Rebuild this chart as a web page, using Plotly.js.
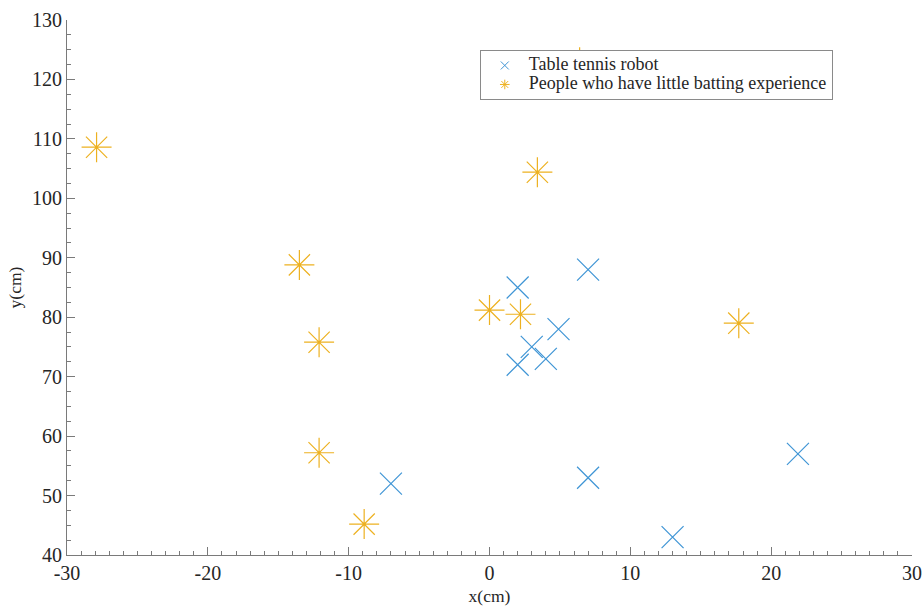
<!DOCTYPE html>
<html>
<head>
<meta charset="utf-8">
<script src="https://cdn.plot.ly/plotly-3.0.1.min.js"></script>
<style>html,body{margin:0;padding:0;background:#fff;}#chart{width:923px;height:606px;}</style>
</head>
<body>
<div id="chart"></div>
<script>
const robotX = [-7, 2, 7, 4.9, 3, 4, 2, 7, 13, 21.9];
const robotY = [52, 85, 88, 78, 75, 73, 72, 53, 43, 57];
const peopleX = [-27.9, -13.5, -12.1, -12.1, -8.9, 0, 2.2, 3.4, 17.7, 6.4];
const peopleY = [108.6, 88.8, 75.8, 57.2, 45.2, 81.2, 80.5, 104.4, 79, 122.9];
const seriesNames = ['Table tennis robot', 'People who have little batting experience'];
const xTickVals = [-30, -20, -10, 0, 10, 20, 30];
const xTickText = ['-30', '-20', '-10', '0', '10', '20', '30'];
const yTickVals = [40, 50, 60, 70, 80, 90, 100, 110, 120, 130];
const yTickText = ['40', '50', '60', '70', '80', '90', '100', '110', '120', '130'];

const blue = '#3f95d5';
const orange = '#EDB120';
const font = 'Liberation Serif, Times New Roman, serif';
const textColor = '#262626';
const axisColor = '#7a7a7a';
const legendName = s => '<span style="font-size:18px">' + s + '</span>';

const traces = [
  {x: robotX, y: robotY, mode: 'markers', type: 'scatter', showlegend: false,
   marker: {symbol: 'x-thin-open', size: 22, color: blue, line: {color: blue, width: 1.2}}},
  {x: peopleX, y: peopleY, mode: 'markers', type: 'scatter', showlegend: false,
   marker: {symbol: 'asterisk-open', size: 25, color: orange, line: {color: orange, width: 1.2}}},
  {x: [null], y: [null], mode: 'markers', type: 'scatter', name: legendName(seriesNames[0]),
   marker: {symbol: 'x-thin-open', size: 8, color: blue, line: {color: blue, width: 1}}},
  {x: [null], y: [null], mode: 'markers', type: 'scatter', name: legendName(seriesNames[1]),
   marker: {symbol: 'asterisk-open', size: 8, color: orange, line: {color: orange, width: 1}}}
];

const axisCommon = {
  showgrid: false, zeroline: false, showline: true, linecolor: axisColor, linewidth: 1,
  ticks: 'inside', ticklen: 8, tickcolor: axisColor, tickwidth: 1,
  tickfont: {family: font, size: 20, color: textColor},
  tickmode: 'array', mirror: false
};

const layout = {
  width: 923, height: 606,
  margin: {l: 67, r: 11, t: 20, b: 51},
  paper_bgcolor: '#fff', plot_bgcolor: '#fff',
  font: {family: font},
  xaxis: Object.assign({}, axisCommon, {
    range: [-30, 30], tickvals: xTickVals, ticktext: xTickText,
    title: {text: 'x(cm)', font: {family: font, size: 17.5, color: textColor}, standoff: 10},
    minor: {tickmode: 'linear', tick0: 0, dtick: 1, ticks: 'inside', ticklen: 4, tickcolor: axisColor, showgrid: false}
  }),
  yaxis: Object.assign({}, axisCommon, {
    range: [40, 130], tickvals: yTickVals, ticktext: yTickText,
    title: {text: 'y(cm)', font: {family: font, size: 17.5, color: textColor}, standoff: 5},
    minor: {tickmode: 'linear', tick0: 0, dtick: 2.5, ticks: 'inside', ticklen: 4, tickcolor: axisColor, showgrid: false}
  }),
  legend: {
    x: 0.4885, y: 0.944, xanchor: 'left', yanchor: 'top',
    bgcolor: '#fff', bordercolor: '#8a8a8a', borderwidth: 1,
    font: {family: font, size: 12, color: textColor},
    tracegroupgap: 0, itemwidth: 38
  },
  showlegend: true
};

Plotly.newPlot('chart', traces, layout, {displayModeBar: false, staticPlot: true});
</script>
</body>
</html>
